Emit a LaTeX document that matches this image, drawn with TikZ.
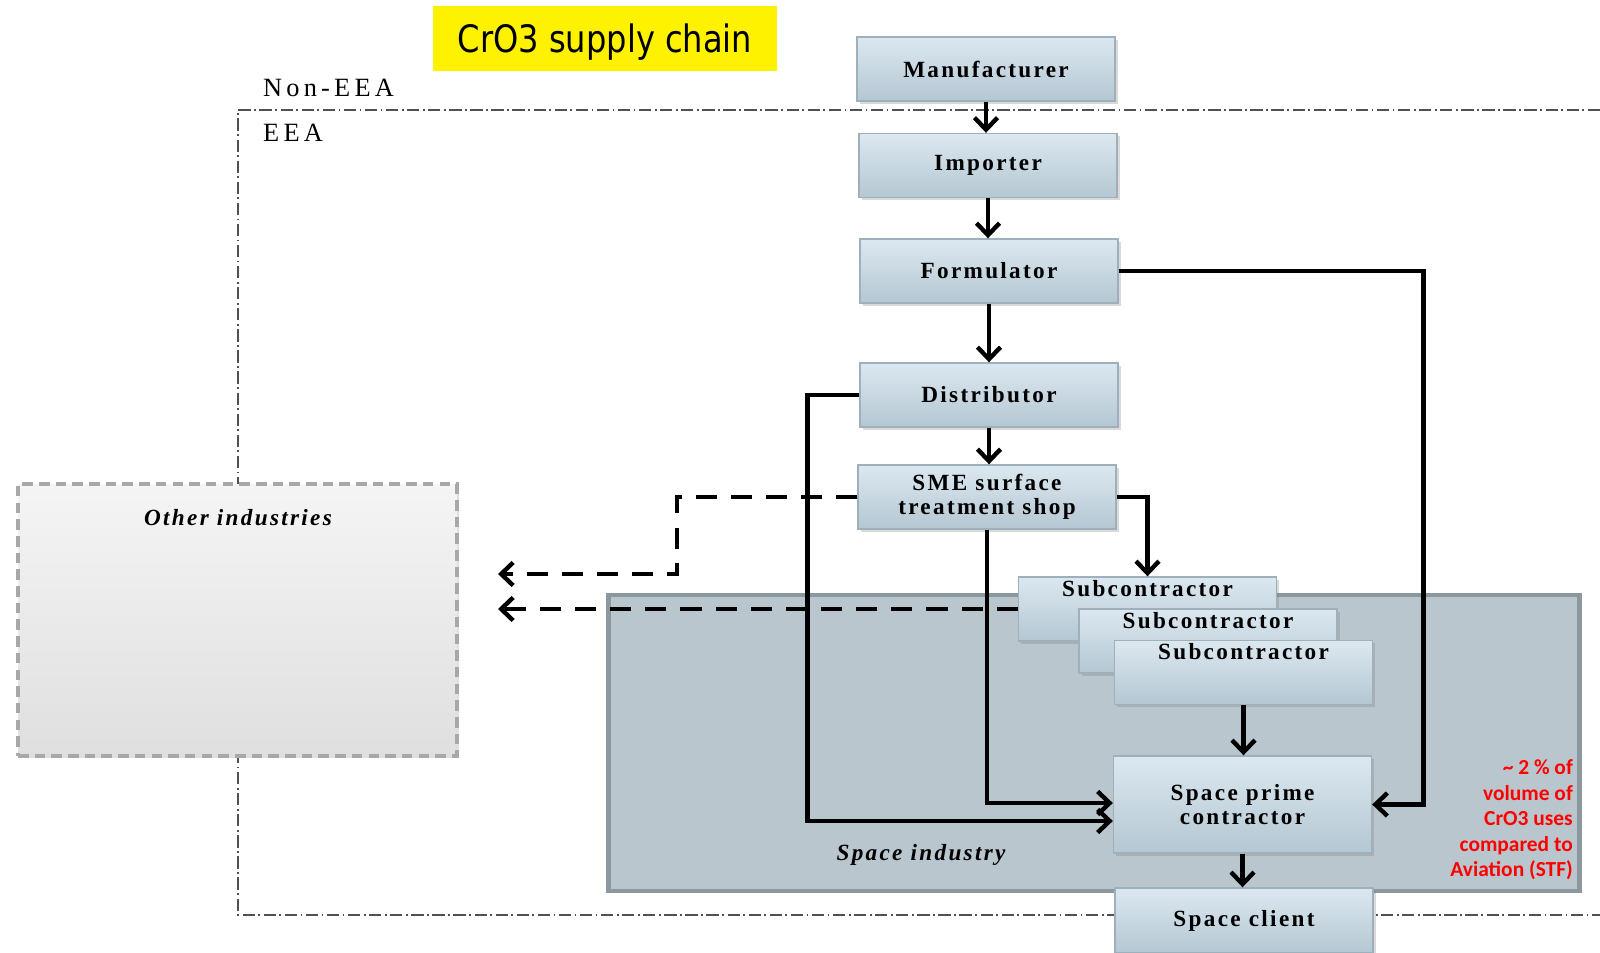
\documentclass[tikz,border=0pt]{standalone}
\usepackage{fontspec}
\setmainfont{Liberation Serif}
\newfontfamily\boxfont{Liberation Serif}[LetterSpace=10]
\newfontfamily\areafont{Liberation Serif}[LetterSpace=16]
\newfontfamily\titlefont{DejaVu Sans}[FakeStretch=0.85]
\newfontfamily\notefont{Carlito}
\usetikzlibrary{arrows.meta, positioning, calc, shadows}

\definecolor{boxtop}{HTML}{DCE8F0}
\definecolor{boxbot}{HTML}{B4C7D2}
\definecolor{boxline}{HTML}{9DB0BC}
\definecolor{spacefill}{HTML}{BAC6CD}
\definecolor{spaceline}{HTML}{8D989E}
\definecolor{otherline}{HTML}{A8A8A8}
\definecolor{frameline}{HTML}{505050}

\tikzset{
  chainbox/.style={draw=boxline, line width=0.8pt, top color=boxtop, bottom color=boxbot,
    minimum width=5.16cm, minimum height=1.28cm, align=center, inner sep=2pt,
    font=\boxfont\bfseries\fontsize{13.2}{13.5}\selectfont,
    drop shadow={opacity=0.3, shadow xshift=1.5pt, shadow yshift=-1.5pt}},
  subbox/.style={chainbox, label={[anchor=north, inner sep=2pt,
    font=\boxfont\bfseries\fontsize{13.2}{13.5}\selectfont]north:Subcontractor}},
  flow/.style={line width=2.5pt, -{Straight Barb[length=2.4mm, width=4.6mm]}},
  otherflow/.style={flow, dash pattern=on 12pt off 8pt},
  eeaframe/.style={draw=frameline, line width=0.6pt, dash pattern=on 7pt off 2pt on 1pt off 2pt},
}

\begin{document}
\begin{tikzpicture}[x=0.02cm, y=-0.02cm]
\useasboundingbox (0,0) rectangle (1600,953);

% EEA border
\draw[eeaframe] (1600,110) -- (238,110) -- (238,915) -- (1600,915);
\node[anchor=base west, font=\areafont\fontsize{15}{16}\selectfont] (noneea) at (257,97) {Non-EEA};
\node[anchor=base west, font=\areafont\fontsize{15}{16}\selectfont] (eea) at (257,142) {EEA};

% regions
\node[draw=spaceline, line width=2.8pt, fill=spacefill, minimum width=19.44cm, minimum height=5.92cm] (space) at (1094,743) {};
\node[font=\boxfont\bfseries\itshape\fontsize{13.2}{13.5}\selectfont] (spacelbl) at (921,855) {Space industry};
\node[draw=otherline, line width=2.3pt, dash pattern=on 6pt off 3.5pt, top color=gray!8, bottom color=gray!25,
  minimum width=8.78cm, minimum height=5.44cm,
  drop shadow={opacity=0.25, shadow xshift=1pt, shadow yshift=-1pt}] (other) at (237.5,620) {};
\node[font=\boxfont\bfseries\itshape\fontsize{13.2}{13.5}\selectfont] (otherlbl) at (238,518) {Other industries};

% title
\node[fill=yellow, minimum width=6.88cm, minimum height=1.3cm, text depth=0pt, font=\titlefont\fontsize{21.5}{24}\selectfont] (title) at (605,38.5) {CrO3 supply chain};

% supply chain
\node[chainbox] (man) at (986,69) {Manufacturer};
\node[chainbox] (imp) at (988,165.5) {Importer};
\node[chainbox] (form) at (989,271) {Formulator};
\node[chainbox] (dist) at (989,395) {Distributor};
\node[chainbox] (sme) at (987,497) {SME surface\\treatment shop};
\node[subbox] (sub1) at (1147.5,609) {};
\node[subbox] (sub2) at (1208,641) {};
\node[subbox] (sub3) at (1243.5,672.5) {};
\node[chainbox, minimum height=1.94cm] (prime) at (1242.5,804.5) {Space prime\\contractor};
\node[chainbox, minimum height=1.3cm] (client) at (1244,920.5) {Space client};

\node[anchor=east, align=right, text=red, font=\notefont\bfseries\fontsize{12.2}{14.5}\selectfont] (note) at (1579,820)
  {\textasciitilde{} 2 \% of\\volume of\\CrO3 uses\\compared to\\Aviation (STF)};

\coordinate (out1) at (498,574);
\coordinate (out2) at (498,609);

% connectors
\draw[flow] (man.south) -- (man.south |- imp.north);
\draw[flow] (imp.south) -- (imp.south |- form.north);
\draw[flow] (form.south) -- (form.south |- dist.north);
\draw[flow] (dist.south) -- (dist.south |- sme.north);
\draw[flow] (form.east) -- ++(305,0) |- (prime.east);
\draw[flow] (dist.west) -- ++(-52,0) |- ($(prime.west)+(0,16.5)$);
\draw[flow] (sme.south) |- ($(prime.west)+(0,-1.5)$);
\draw[flow] (sme.east) -| (sub1.north);
\draw[flow] (sub3.south) -- (sub3.south |- prime.north);
\draw[flow] (prime.south) -- (prime.south |- client.north);
\draw[otherflow] (sme.west) -| ($(out1)+(179,0)$) -- (out1);
\draw[otherflow] (sub1.west) -- (out2);
\end{tikzpicture}
\end{document}
